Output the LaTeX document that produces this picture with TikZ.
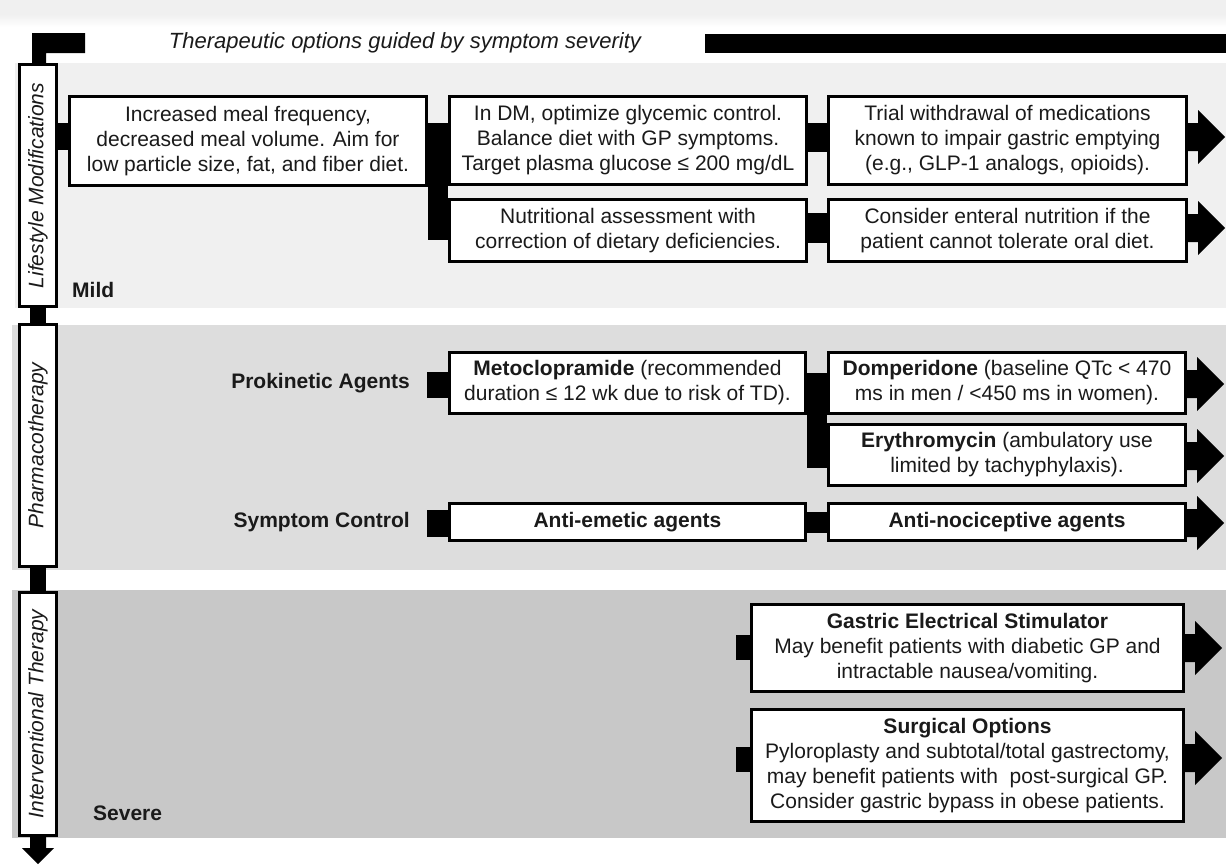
\documentclass[tikz,border=0pt]{standalone}
\usepackage{fontspec}
\setmainfont{Liberation Sans}
\usetikzlibrary{calc}
\definecolor{txt}{HTML}{1A1A1A}
\definecolor{bandA}{HTML}{F0F0F0}
\definecolor{bandB}{HTML}{DDDDDD}
\definecolor{bandC}{HTML}{C8C8C8}
\newcommand\rarr[1]{\fill[black] (#1) ++(-1,-14) -- ++(11,0) -- ++(0,-13) -- ++(27,27) -- ++(-27,27) -- ++(0,-13) -- ++(-11,0) -- cycle;}
\begin{document}
\begin{tikzpicture}[x=1pt,y=-1pt,
 every node/.style={text=txt},
 box/.style={draw=black, line width=3pt, fill=white, align=center, inner sep=0pt, font=\fontsize{21}{25}\selectfont},
 side/.style={draw=black, line width=3pt, fill=white, rotate=90, inner sep=0pt, minimum height=37, font=\fontsize{21}{25}\selectfont\itshape},
 lbl/.style={inner sep=0pt, font=\fontsize{21}{25}\selectfont\bfseries},
 conn/.style={fill=black}]
\useasboundingbox (0,0) rectangle (1226,865);
\fill[white] (0,0) rectangle (1226,865);
% top strip
\fill[black!6] (0,0) rectangle (1226,14);
\shade[top color=black!6, bottom color=white] (0,14) rectangle (1226,27);
% bands
\fill[bandA] (15,63) rectangle (1226,308);
\fill[bandB] (12,325) rectangle (1226,570);
\fill[bandC] (12,590) rectangle (1226,838);
% title
\node[font=\fontsize{22}{26}\selectfont\itshape] (title) at (405,43) {Therapeutic options guided by symptom severity};
\fill[black] (705,34) rectangle (1226,53);
% side boxes
\node[side, minimum width=242] (lm) at (38,185.5) {Lifestyle Modifications};
\node[side, minimum width=242] (ph) at (38,445.5) {Pharmacotherapy};
\node[side, minimum width=243] (it) at (38,714) {Interventional Therapy};
% boxes
\node[box, minimum width=357, minimum height=89] (b1) at (248,141) {Increased meal frequency,\\decreased meal volume. Aim for\\low particle size, fat, and fiber diet.};
\node[box, minimum width=357, minimum height=88] (b2) at (628,140.5) {In DM, optimize glycemic control.\\Balance diet with GP symptoms.\\Target plasma glucose ≤ 200 mg/dL};
\node[box, minimum width=357, minimum height=62] (b3) at (628,230.5) {Nutritional assessment with\\correction of dietary deficiencies.};
\node[box, minimum width=358, minimum height=88] (b4) at (1007.5,140.5) {Trial withdrawal of medications\\known to impair gastric emptying\\(e.g., GLP-1 analogs, opioids).};
\node[box, minimum width=358, minimum height=62] (b5) at (1007.5,230.5) {Consider enteral nutrition if the\\patient cannot tolerate oral diet.};
\node[box, minimum width=356, minimum height=61] (meto) at (627.5,383) {\textbf{Metoclopramide} (recommended\\duration ≤ 12 wk due to risk of TD).};
\node[box, minimum width=357, minimum height=61] (dom) at (1007,383) {\textbf{Domperidone} (baseline QTc < 470\\ms in men / <450 ms in women).};
\node[box, minimum width=357, minimum height=61] (ery) at (1007,455) {\textbf{Erythromycin} (ambulatory use\\limited by tachyphylaxis).};
\node[box, minimum width=356, minimum height=37] (aem) at (627.5,522) {\textbf{Anti-emetic agents}};
\node[box, minimum width=357, minimum height=37] (anoc) at (1007,522) {\textbf{Anti-nociceptive agents}};
\node[box, minimum width=432, minimum height=87] (ges) at (967.5,648) {\textbf{Gastric Electrical Stimulator}\\May benefit patients with diabetic GP and\\intractable nausea/vomiting.};
\node[box, minimum width=432, minimum height=112] (surg) at (967.5,765.5) {\textbf{Surgical Options}\\Pyloroplasty and subtotal/total gastrectomy,\\may benefit patients with\ \ post-surgical GP.\\Consider gastric bypass in obese patients.};
% labels
\node[lbl, anchor=east] (pk) at (410,383) {Prokinetic Agents};
\node[lbl, anchor=east] (sc) at (410,522) {Symptom Control};
\node[lbl, anchor=west] (mild) at (72,290) {Mild};
\node[lbl, anchor=west] (severe) at (93,813) {Severe};
% spine
\fill[conn] ($(lm.east)+(-6,0)$) -- ++(0,-30) -- ++(53,0) -- ++(0,20) -- ++(-39,0) -- ++(0,10) -- cycle;
\fill[conn] ($(lm.west)+(-8,0)$) rectangle ($(ph.east)+(8,0)$);
\fill[conn] ($(ph.west)+(-8,0)$) rectangle ($(it.east)+(8,0)$);
\fill[conn] ($(it.west)+(-8,0)$) -- ++(0,11) -- ++(-8,0) -- ++(16,16) -- ++(16,-16) -- ++(-8,0) -- ++(0,-11) -- cycle;
% connectors
\fill[conn] ($(b1.north west)+(-11,28)$) rectangle ($(b1.north west)+(0,55)$);
\fill[conn] ($(b1.north east)+(0,28)$) rectangle ($(b3.south west)+(0,-23)$);
\fill[conn] ($(b2.north east)+(0,28)$) rectangle ($(b4.north west)+(0,57)$);
\fill[conn] ($(b3.north east)+(0,15)$) rectangle ($(b5.north west)+(0,45)$);
\fill[conn] ($(pk.east)+(17,-11)$) rectangle ($(meto.west)+(0,15)$);
\fill[conn] ($(sc.east)+(17,-12)$) rectangle ($(aem.west)+(0,15)$);
\fill[conn] ($(meto.north east)+(0,22)$) rectangle ($(ery.south west)+(0,-19)$);
\fill[conn] ($(aem.north east)+(0,10)$) rectangle ($(anoc.north west)+(0,31)$);
\fill[conn] ($(ges.north west)+(-14,32)$) rectangle ($(ges.north west)+(0,57)$);
\fill[conn] ($(surg.north west)+(-14,39)$) rectangle ($(surg.north west)+(0,64)$);
% arrows
\rarr{$(b4.east)+(0,-3.5)$}
\rarr{$(b5.east)+(0,-2.5)$}
\rarr{$(dom.east)+(0,1)$}
\rarr{$(ery.east)+(0,1)$}
\rarr{$(anoc.east)+(0,1)$}
\rarr{$(ges.east)+(0,0)$}
\rarr{$(surg.east)+(0,-7.5)$}
\end{tikzpicture}
\end{document}
